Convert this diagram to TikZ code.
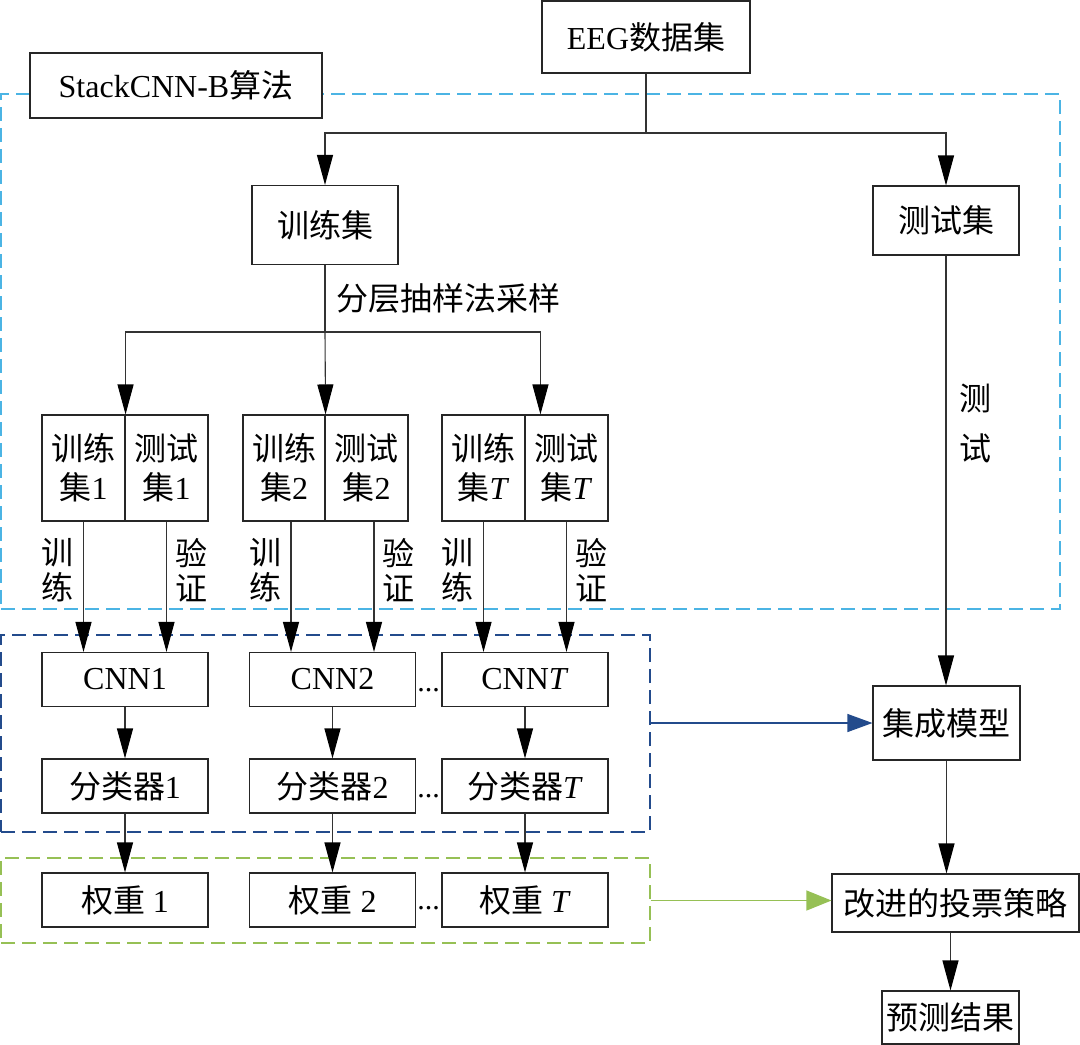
\documentclass[tikz,border=0pt]{standalone}
\usepackage{fontspec}
\setmainfont{Liberation Serif}
\newfontfamily\cjk{Noto Sans CJK SC}
\newcommand{\zh}[1]{{\cjk #1}}
\usetikzlibrary{arrows.meta}
\definecolor{framecyan}{RGB}{75,180,228}
\definecolor{frameblue}{RGB}{35,75,140}
\definecolor{framegreen}{RGB}{150,192,85}

\begin{document}
\begin{tikzpicture}[x=1pt, y=-1pt,
    box/.style={draw=black!85, line width=1.1pt, fill=white, inner sep=0pt, align=center, font=\fontsize{32}{39}\selectfont},
    region/.style={draw, line width=1.1pt, dash pattern=on 14pt off 7pt, inner sep=0pt},
    line/.style={draw=black!80, line width=1.1pt},
    arr/.style={line, -{Triangle[length=30pt, width=16pt, color=black]}},
    vlabel/.style={inner sep=0pt, align=center, font=\fontsize{32}{35}\selectfont},
    dotlabel/.style={inner sep=0pt, font=\fontsize{30}{30}\selectfont}]
                            \useasboundingbox (0, 0) rectangle (1080, 1045);

                            \node (stackreg)[region, draw=framecyan, minimum width=1059, minimum height=515] at (530.5, 351.5) {};
                            \node (cnnreg)[region, draw=frameblue, minimum width=649, minimum height=197] at (325.5, 733.5) {};
                            \node (wtreg)[region, draw=framegreen, minimum width=649, minimum height=85] at (325.5, 900.5) {};

                            \node (algo)[box, line width=2pt, minimum width=292, minimum height=65] at (176, 85.5) {StackCNN-B\zh{算法}};
                            \node (eeg)[box, minimum width=208, minimum height=72] at (646, 37) {EEG\zh{数据集}};
                            \node (trainset)[box, minimum width=146, minimum height=79] at (325, 225) {\zh{训练集}};
                            \node (testset)[box, minimum width=146, minimum height=69] at (946, 220.5) {\zh{测试集}};

                            \node (tr1)[box, minimum width=83, minimum height=106] at (83.5, 468) {\zh{训练}\\\zh{集}1};
                            \node (te1)[box, minimum width=83, minimum height=106] at (166.5, 468) {\zh{测试}\\\zh{集}1};
                            \node (tr2)[box, minimum width=82, minimum height=106] at (284, 468) {\zh{训练}\\\zh{集}2};
                            \node (te2)[box, minimum width=83, minimum height=106] at (366.5, 468) {\zh{测试}\\\zh{集}2};
                            \node (tr3)[box, minimum width=83, minimum height=106] at (483.5, 468) {\zh{训练}\\\zh{集}\textit{T}};
                            \node (te3)[box, minimum width=83, minimum height=106] at (566.5, 468) {\zh{测试}\\\zh{集}\textit{T}};

                            \node (cnn1)[box, minimum width=166, minimum height=54] at (125, 679.5) {CNN1};
                            \node (cnn2)[box, minimum width=166, minimum height=54] at (332.5, 679.5) {CNN2};
                            \node (cnn3)[box, minimum width=166, minimum height=54] at (525, 679.5) {CNN\textit{T}};
                            \node (cls1)[box, minimum width=166, minimum height=54] at (125, 786) {\zh{分类器}1};
                            \node (cls2)[box, minimum width=166, minimum height=54] at (332.5, 786) {\zh{分类器}2};
                            \node (cls3)[box, minimum width=166, minimum height=54] at (525, 786) {\zh{分类器}\textit{T}};
                            \node (wt1)[box, minimum width=166, minimum height=54] at (125, 900) {\zh{权重} 1};
                            \node (wt2)[box, minimum width=166, minimum height=54] at (332.5, 900) {\zh{权重} 2};
                            \node (wt3)[box, minimum width=166, minimum height=54] at (525, 900) {\zh{权重} \textit{T}};

                            \node (dotsa)[dotlabel] at (428.5, 690) {...};
                            \node (dotsb)[dotlabel] at (428.5, 796) {...};
                            \node (dotsc)[dotlabel] at (428.5, 908) {...};

                            \node (ensemble)[box, minimum width=147, minimum height=74] at (946.5, 723) {\zh{集成模型}};
                            \node (vote)[box, minimum width=247, minimum height=58] at (955.5, 903) {\zh{改进的投票策略}};
                            \node (result)[box, minimum width=137, minimum height=53] at (950.5, 1017.5) {\zh{预测结果}};

                            \coordinate (fork1) at (646, 133);
                            \coordinate (fork2) at (325, 332);

                            \draw[line] (eeg) -- (fork1);
                            \draw[arr] (fork1) -| (trainset);
                            \draw[arr] (fork1) -| (testset);
                            \draw[line] (trainset) -- node[vlabel, anchor=west, xshift=11pt, pos=0.5] {\zh{分层抽样法采样}} (fork2);
                            \draw[arr] (fork2) -| (tr1.north east);
                            \draw[arr] (fork2) -- (tr2.north east);
                            \draw[arr] (fork2) -| ([xshift=16pt]te3.north west);

                            \draw[arr] (tr1) -- node[vlabel, left=9pt, pos=0.37] {\zh{训}\\\zh{练}} (tr1 |- cnn1.north);
                            \draw[arr] (te1) -- node[vlabel, right=8pt, pos=0.37] {\zh{验}\\\zh{证}} (te1 |- cnn1.north);
                            \draw[arr] ([xshift=-41.5pt]cnn2.north |- tr2.south) -- node[vlabel, left=9pt, pos=0.37] {\zh{训}\\\zh{练}} ([xshift=-41.5pt]cnn2.north);
                            \draw[arr] ([xshift=41.5pt]cnn2.north |- te2.south) -- node[vlabel, right=8pt, pos=0.37] {\zh{验}\\\zh{证}} ([xshift=41.5pt]cnn2.north);
                            \draw[arr] (tr3) -- node[vlabel, left=9pt, pos=0.37] {\zh{训}\\\zh{练}} (tr3 |- cnn3.north);
                            \draw[arr] (te3) -- node[vlabel, right=8pt, pos=0.37] {\zh{验}\\\zh{证}} (te3 |- cnn3.north);

                            \draw[arr] (cnn1) -- (cls1);
                            \draw[arr] (cnn2) -- (cls2);
                            \draw[arr] (cnn3) -- (cls3);
                            \draw[arr] (cls1) -- (wt1);
                            \draw[arr] (cls2) -- (wt2);
                            \draw[arr] (cls3) -- (wt3);

                            \draw[arr] (testset) -- node[vlabel, right=13pt, pos=0.39, font=\fontsize{32}{50}\selectfont] {\zh{测}\\\zh{试}} (testset |- ensemble.north);
                            \draw[arr] (ensemble) -- (ensemble.south |- vote.north);
                            \draw[arr] (result.north |- vote.south) -- (result);
                            \draw[draw=frameblue, line width=1.1pt, -{Triangle[length=25pt, width=18pt]}] (cnnreg.east |- ensemble) -- (ensemble);
                            \draw[draw=framegreen, line width=1.1pt, -{Triangle[length=25pt, width=20pt]}] (wtreg.east) -- (wtreg.east -| vote.west);

                        \end{tikzpicture}
\end{document}
